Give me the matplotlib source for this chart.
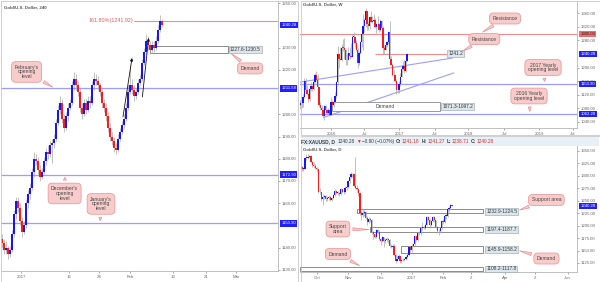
"""
Gold/U.S. Dollar multi-timeframe view: 4h, weekly and daily candles
with zones, opening levels and callouts.
"""
import numpy as np
import matplotlib
matplotlib.use("Agg")
import matplotlib.pyplot as plt
from matplotlib.patches import Rectangle

plt.rcParams["font.family"] = ["Liberation Sans", "DejaVu Sans"]

# ---- 4h candles (Dec 27 2016 .. Feb 9 2017) ----
h4_closes = [1142, 1139, 1140, 1137, 1139, 1146, 1155, 1161, 1158, 1152,
             1147, 1150, 1160, 1164, 1167, 1174, 1180, 1179, 1175, 1172,
             1174, 1179, 1183, 1182, 1186, 1187, 1189, 1196, 1202, 1205,
             1198, 1194, 1199, 1203, 1205, 1213, 1216, 1213, 1210, 1203,
             1200, 1205, 1202, 1206, 1205, 1213, 1216, 1215, 1213, 1210,
             1205, 1203, 1199, 1194, 1190, 1188, 1185, 1184, 1189, 1192,
             1195, 1198, 1203, 1210, 1213, 1211, 1208, 1210, 1214, 1216,
             1223, 1228, 1233, 1231, 1229, 1231, 1230, 1233, 1238, 1242,
             1240.28]
h4_opens = [1144.0] + h4_closes[:-1]
h4_highs = [1146, 1144, 1143, 1141, 1141, 1148, 1157, 1163, 1163, 1160,
            1154, 1152, 1162, 1166, 1169, 1176, 1183, 1182, 1181, 1177,
            1176, 1181, 1185, 1186, 1188, 1189, 1191, 1198, 1204, 1208,
            1207, 1200, 1201, 1205, 1207, 1215, 1219, 1218, 1215, 1212,
            1205, 1207, 1207, 1208, 1208, 1215, 1219, 1218, 1217, 1214,
            1212, 1207, 1205, 1201, 1196, 1192, 1190, 1187, 1191, 1194,
            1197, 1200, 1205, 1213, 1222, 1216, 1213, 1212, 1216, 1218,
            1225, 1230, 1236, 1235, 1233, 1233, 1233, 1235, 1240, 1244.6,
            1243]
h4_lows = [1140, 1137, 1137, 1135, 1136, 1138, 1145, 1153, 1156, 1150,
           1145, 1146, 1149, 1158, 1162, 1166, 1172, 1177, 1173, 1170,
           1171, 1173, 1177, 1180, 1181, 1178, 1185, 1188, 1195, 1200,
           1196, 1192, 1193, 1197, 1202, 1204, 1211, 1211, 1208, 1201,
           1198, 1199, 1200, 1201, 1203, 1204, 1211, 1213, 1211, 1208,
           1203, 1201, 1197, 1192, 1188, 1186, 1183, 1182, 1183, 1188,
           1191, 1194, 1197, 1202, 1209, 1209, 1206, 1207, 1209, 1213,
           1215, 1222, 1227, 1229, 1227, 1228, 1228, 1229, 1232, 1237,
           1239]
h4_ticks = [9.5, 33.5, 48.5, 64, 85.5, 102, 117]
h4_tick_labels = ["2017", "16", "24", "Feb", "13", "21", "Mar"]
h4_yticks = [1130, 1140, 1160, 1170, 1180, 1190, 1200, 1220, 1230, 1250]
h4_levels = [1211.58, 1172.90, 1150.90]
h4_fib = 1241.92
h4_demand = (1227.6, 1230.5)

# ---- weekly candles (Jul 27 2015 .. Feb 6 2017) ----
wk_closes = [1095, 1094, 1113, 1160, 1134, 1121, 1108, 1138, 1145, 1137,
             1156, 1177, 1163, 1142, 1088, 1081, 1076, 1056, 1086, 1075,
             1065, 1076, 1061, 1097, 1089, 1097, 1116, 1157, 1239, 1226,
             1222, 1259, 1258, 1253, 1221, 1222, 1243, 1235, 1232, 1290,
             1290, 1273, 1252, 1212, 1243, 1275, 1298, 1322, 1340, 1366,
             1327, 1322, 1350, 1335, 1336, 1340, 1321, 1327, 1328, 1310,
             1338, 1316, 1257, 1251, 1267, 1276, 1304, 1225, 1208, 1178,
             1177, 1160, 1134, 1133, 1152, 1173, 1197, 1204, 1190, 1220,
             1240.28]
wk_opens = [1090.0] + wk_closes[:-1]
wk_highs = [1105, 1099, 1123, 1169, 1170, 1147, 1125, 1141, 1157, 1147,
            1159, 1185, 1191, 1180, 1143, 1099, 1089, 1081, 1088, 1088,
            1078, 1081, 1081, 1112, 1105, 1111, 1127, 1160, 1263, 1240,
            1261, 1270, 1283, 1287, 1255, 1243, 1262, 1261, 1271, 1298,
            1304, 1292, 1280, 1258, 1248, 1277, 1315, 1358, 1345, 1375,
            1368, 1338, 1352, 1368, 1352, 1358, 1347, 1331, 1352, 1331,
            1343, 1341, 1323, 1266, 1274, 1279, 1308, 1337, 1235, 1213,
            1192, 1180, 1166, 1145, 1160, 1183, 1206, 1219, 1221, 1226,
            1244]
wk_lows = [1077, 1080, 1084, 1110, 1130, 1118, 1098, 1101, 1130, 1130,
           1134, 1155, 1160, 1138, 1084, 1076, 1071, 1052, 1046, 1067,
           1062, 1064, 1058, 1061, 1084, 1084, 1096, 1110, 1153, 1200,
           1221, 1220, 1249, 1226, 1208, 1206, 1221, 1225, 1230, 1230,
           1280, 1260, 1250, 1200, 1206, 1240, 1262, 1251, 1306, 1320,
           1310, 1310, 1314, 1333, 1330, 1333, 1317, 1303, 1323, 1306,
           1307, 1313, 1241, 1241, 1252, 1260, 1270, 1222, 1207, 1174,
           1161, 1157, 1122, 1124, 1125, 1146, 1173, 1194, 1185, 1188,
           1219]
wk_ticks = [23, 48, 74, 101, 126, 153, 179, 204.5]
wk_tick_labels = ["2016", "Jul", "2017", "Jul", "2018", "Jul", "2019", "Jul"]
wk_yticks = [1040, 1080, 1120, 1160, 1200, 1280, 1320, 1360]
wk_resistance = 1300.00
wk_minor_res = 1241.2
wk_levels = [1150.90, 1062.20]
wk_demand = (1071.3, 1097.2)
wk_trend_upper = ([0, 114], [1157, 1228])
wk_trend_lower = ([18.5, 115], [1054, 1184])

# ---- daily candles (Sep 19 2016 .. Feb 9 2017) ----
d_closes = [1314, 1314, 1336, 1336, 1338, 1339, 1327, 1322, 1320, 1316,
            1313, 1268, 1267, 1253, 1257, 1259, 1253, 1255, 1257, 1251,
            1255, 1262, 1269, 1266, 1266, 1263, 1273, 1267, 1268, 1276,
            1277, 1289, 1297, 1303, 1304, 1280, 1276, 1274, 1266, 1225,
            1221, 1226, 1227, 1216, 1208, 1213, 1212, 1187, 1183, 1178,
            1191, 1188, 1173, 1170, 1177, 1169, 1171, 1174, 1171, 1160,
            1158, 1160, 1142, 1129, 1133, 1139, 1129, 1131, 1131, 1133,
            1138, 1141, 1157, 1151, 1159, 1164, 1180, 1172, 1185, 1185,
            1196, 1197, 1196, 1202, 1217, 1212, 1201, 1209, 1218, 1211,
            1198, 1189, 1190, 1195, 1210, 1208, 1220, 1220, 1234, 1236,
            1241, 1240.28]
d_opens = [1318.0] + d_closes[:-1]
d_highs = [1320, 1318, 1338, 1343, 1344, 1342, 1341, 1330, 1327, 1323,
           1318, 1314, 1275, 1268, 1264, 1262, 1262, 1259, 1262, 1260,
           1258, 1264, 1273, 1271, 1270, 1267, 1275, 1274, 1271, 1280,
           1280, 1291, 1298, 1307, 1306, 1305, 1337, 1282, 1275, 1268,
           1230, 1233, 1232, 1229, 1220, 1218, 1216, 1214, 1190, 1186,
           1194, 1194, 1192, 1176, 1180, 1178, 1175, 1178, 1176, 1173,
           1163, 1163, 1164, 1144, 1141, 1143, 1140, 1134, 1135, 1136,
           1141, 1145, 1159, 1160, 1163, 1166, 1182, 1181, 1187, 1189,
           1199, 1207, 1201, 1206, 1219, 1220, 1213, 1212, 1220, 1219,
           1212, 1200, 1194, 1197, 1212, 1213, 1222, 1225, 1236, 1240,
           1244, 1243]
d_lows = [1310, 1309, 1313, 1332, 1334, 1335, 1325, 1318, 1315, 1314,
          1308, 1266, 1264, 1250, 1241, 1254, 1250, 1249, 1252, 1249,
          1250, 1254, 1260, 1263, 1261, 1260, 1262, 1265, 1264, 1266,
          1272, 1275, 1286, 1295, 1298, 1278, 1274, 1268, 1260, 1222,
          1211, 1218, 1220, 1213, 1202, 1205, 1208, 1183, 1174, 1176,
          1176, 1183, 1171, 1162, 1168, 1157, 1166, 1167, 1166, 1157,
          1155, 1155, 1140, 1124, 1128, 1131, 1125, 1125, 1128, 1128,
          1131, 1136, 1139, 1146, 1147, 1157, 1162, 1170, 1170, 1181,
          1182, 1191, 1193, 1194, 1201, 1209, 1195, 1200, 1207, 1208,
          1196, 1186, 1181, 1186, 1193, 1204, 1206, 1214, 1218, 1228,
          1232, 1238.7]
d_ticks = [10, 31, 53, 74, 95, 114, 137, 157, 179]
d_tick_labels = ["Oct", "Nov", "Dec", "2017", "Feb", "2", "Apr", "2", "Jun"]
d_yticks = [1125, 1150, 1175, 1200, 1225, 1250, 1275, 1300, 1325, 1350]
# zones: (low, high, start index)
d_zones = [(1224.5, 1232.9, 37), (1187.7, 1197.4, 46), (1145.9, 1158.2, 67), (1108.2, 1117.8, -1.4)]
d_zone_labels = ["1232.9-1224.5", "1197.4-1187.7", "1145.9-1158.2", "1108.2-1117.8"]

LAST = 1240.28

UP = "#1414ff"
DOWN = "#ff1a1a"
WICK = "#a8a8a8"
BLUE_LINE = "#9d9dff"
RED_LINE = "#f28c8c"
CALL_FC = "#f9cccc"
CALL_EC = "#e89090"
TAG_BLUE = "#1f1fff"
LABEL_FC = "#dde6ec"
TXT = "#3a3a3a"


def draw_candles(ax, opens, highs, lows, closes, width, min_h):
    o, h, l, c = (np.asarray(a, dtype=float) for a in (opens, highs, lows, closes))
    x = np.arange(len(c))
    up = c >= o
    ax.vlines(x, l, h, color=WICK, lw=0.5, zorder=2)
    bottom = np.minimum(o, c)
    height = np.maximum(np.abs(c - o), min_h)
    ax.bar(x[up], height[up], width, bottom=bottom[up], color=UP, lw=0, zorder=3)
    ax.bar(x[~up], height[~up], width, bottom=bottom[~up], color=DOWN, lw=0, zorder=3)


def style_axes(ax, xlim, ylim, yticks, xticks, xlabels):
    ax.set_xlim(*xlim)
    ax.set_ylim(*ylim)
    ax.yaxis.tick_right()
    ax.set_yticks(yticks)
    ax.set_yticklabels([f"{v:.2f}" for v in yticks])
    ax.set_xticks(xticks)
    ax.set_xticklabels(xlabels)
    for s in ("top", "left"):
        ax.spines[s].set_visible(False)
    for s in ("right", "bottom"):
        ax.spines[s].set_color("#b5b5b5")
        ax.spines[s].set_linewidth(0.6)
    ax.tick_params(axis="both", labelsize=3.1, colors="#666666", length=1.5, width=0.4, pad=1.2)


def price_tag(ax, y, text, fc=TAG_BLUE, tc="white"):
    ax.text(1.012, y, text, transform=ax.get_yaxis_transform(), ha="left", va="center",
            fontsize=3.1, color=tc, clip_on=False, zorder=9,
            bbox=dict(boxstyle="square,pad=0.25", fc=fc, ec="none"))


def range_label(ax, x, y, text):
    ax.text(x, y, text, ha="left", va="center", fontsize=3.4, color="#333333", zorder=7,
            bbox=dict(boxstyle="square,pad=0.2", fc=LABEL_FC, ec="#8fa3ad", lw=0.4))


def callout(ax, text, xy, xytext):
    ax.annotate(text, xy=xy, xytext=xytext, ha="center", va="center", fontsize=3.6,
                color="#444444", linespacing=0.95, zorder=8, annotation_clip=False,
                bbox=dict(boxstyle="round,pad=0.6,rounding_size=0.8", fc=CALL_FC, ec=CALL_EC, lw=0.5),
                arrowprops=dict(arrowstyle="wedge,tail_width=0.6,shrink_factor=0.5",
                                fc=CALL_FC, ec=CALL_EC, lw=0.5))


def title(ax, text):
    ax.text(0.012, 0.985, text, transform=ax.transAxes, ha="left", va="top",
            fontsize=3.2, fontweight="bold", color="#555555", zorder=9)


fig = plt.figure(figsize=(6, 2.82), dpi=100)
W, H = 600.0, 282.0

# outer panel frames
for x0, y0, x1, y1 in [(0.5, 0.5, 298, 281.5), (300.5, 0.5, 599.5, 134.5), (300.5, 136, 599.5, 281.5)]:
    fig.add_artist(Rectangle((x0 / W, 1 - y1 / H), (x1 - x0) / W, (y1 - y0) / H,
                             transform=fig.transFigure, fill=False, ec="#c8c8c8", lw=0.6))

# ---------------- left: 4h ----------------
ax1 = fig.add_axes([1 / W, 1 - 271 / H, 277 / W, 270 / H])
style_axes(ax1, (-0.5, 138), (1129.55, 1250.9), h4_yticks, h4_ticks, h4_tick_labels)
for lvl in h4_levels:
    ax1.axhline(lvl, color=BLUE_LINE, lw=0.9, zorder=1)
ax1.hlines(h4_fib, 66, 138, color=RED_LINE, lw=0.8, zorder=1)
ax1.text(65.5, h4_fib, f"161.80%({h4_fib:.2f})", ha="right", va="center", fontsize=3.9, color="#e25c5c")
ax1.add_patch(Rectangle((74, h4_demand[0]), 39, h4_demand[1] - h4_demand[0],
                        fc="white", ec="#7a7a7a", lw=0.6, zorder=1))
range_label(ax1, 114, sum(h4_demand) / 2, f"{h4_demand[0]}-{h4_demand[1]}")
draw_candles(ax1, h4_opens, h4_highs, h4_lows, h4_closes, 0.8, 0.4)
for base, tip in [((60.5, 1198.8), (65, 1225.3)), ((70.2, 1207.8), (73.3, 1234.3))]:
    ax1.annotate("", xy=tip, xytext=base, zorder=6,
                 arrowprops=dict(arrowstyle="-|>", color="#111111", lw=0.6, mutation_scale=4,
                                 shrinkA=0, shrinkB=0))
callout(ax1, "February's\nopening\nlevel", (26.5, h4_levels[0]), (12.3, 1219))
callout(ax1, "December's\nopening\nlevel", (31.5, h4_levels[1]), (31.3, 1164.4))
callout(ax1, "January's\nopening\nlevel", (49, h4_levels[2]), (49.5, 1159.7))
callout(ax1, "Demand", (113.5, 1228), (124, 1220.6))
price_tag(ax1, LAST, f"{LAST:.2f}")
for lvl in h4_levels:
    price_tag(ax1, lvl, f"{lvl:.2f}")
title(ax1, "Gold/U.S. Dollar, 240")

# ---------------- top right: weekly ----------------
ax2 = fig.add_axes([300 / W, 1 - 128 / H, 277 / W, 127 / H])
style_axes(ax2, (-0.25, 207.5), (1021.6, 1396.3), wk_yticks, wk_ticks, wk_tick_labels)
ax2.axhline(wk_resistance, color=RED_LINE, lw=0.8, zorder=1)
for lvl in wk_levels:
    ax2.axhline(lvl, color=BLUE_LINE, lw=0.9, zorder=1)
ax2.hlines(wk_minor_res, 56, 110, color=RED_LINE, lw=0.8, zorder=1)
ax2.plot(*wk_trend_upper, color=BLUE_LINE, lw=0.8, zorder=1)
ax2.plot(*wk_trend_lower, color=BLUE_LINE, lw=0.8, zorder=1)
ax2.add_patch(Rectangle((23.8, wk_demand[0]), 81, wk_demand[1] - wk_demand[0],
                        fc="white", ec="#8a8a8a", lw=0.6, zorder=1))
ax2.text(64, sum(wk_demand) / 2, "Demand", ha="center", va="center", fontsize=3.6, color="#444444", zorder=4)
draw_candles(ax2, wk_opens, wk_highs, wk_lows, wk_closes, 0.9, 2.0)
range_label(ax2, 111, wk_minor_res, f"{wk_minor_res}")
range_label(ax2, 106.5, sum(wk_demand) / 2, f"{wk_demand[0]}-{wk_demand[1]}")
callout(ax2, "Resistance", (134.8, wk_resistance), (153.5, 1344.7))
callout(ax2, "Resistance", (120, 1245), (138, 1284))
callout(ax2, "2017 Yearly\nopening level", (183.5, wk_levels[0]), (182, 1200))
callout(ax2, "2016 Yearly\nopening level", (172.3, wk_levels[1]), (171.5, 1116))
price_tag(ax2, wk_resistance, f"{wk_resistance:.2f}", fc="#f46a6a", tc="#222222")
price_tag(ax2, LAST, f"{LAST:.2f}")
for lvl in wk_levels:
    price_tag(ax2, lvl, f"{lvl:.2f}")
title(ax2, "Gold/U.S. Dollar, W")

# ---------------- bottom right: daily ----------------
ax3 = fig.add_axes([300 / W, 1 - 272 / H, 277 / W, 126 / H])
style_axes(ax3, (-1.35, 185.2), (1106.9, 1360), d_yticks, d_ticks, d_tick_labels)
for (lo, hi, start), lab in zip(d_zones, d_zone_labels):
    ax3.add_patch(Rectangle((start, lo), 122 - start, hi - lo, fc="white", ec="#7a7a7a",
                            lw=0.6, zorder=1, clip_on=True))
    range_label(ax3, 124, (lo + hi) / 2, lab)
draw_candles(ax3, d_opens, d_highs, d_lows, d_closes, 0.8, 1.0)
callout(ax3, "Support area", (144.8, 1229.5), (164.6, 1251.6))
callout(ax3, "Support\narea", (47, 1192), (24.2, 1193.3))
callout(ax3, "Demand", (144.8, 1151), (164.6, 1134))
callout(ax3, "Demand", (40.4, 1117), (24.2, 1143))
price_tag(ax3, LAST, f"{LAST:.2f}")
title(ax3, "Gold/U.S. Dollar, D")

# info bar above the daily panel
fig.add_artist(Rectangle((301 / W, 1 - 146 / H), 298 / W, 9.5 / H, transform=fig.transFigure,
                         fc="#e8f0f7", ec="none"))
RED_T = "#d42a2a"
parts = [("FX:XAUUSD, D", TXT, "bold", 2.0), (f"{LAST:.2f}", TXT, "normal", 1.5),
         ("\u25bc", RED_T, "normal", 1.2), ("\u22120.90 (\u22120.07%)", TXT, "normal", 2.0),
         ("O:", TXT, "bold", 0.4), ("1241.18", RED_T, "normal", 2.0),
         ("H:", TXT, "bold", 0.4), ("1241.27", RED_T, "normal", 2.0),
         ("L:", TXT, "bold", 0.4), ("1238.71", RED_T, "normal", 2.0),
         ("C:", TXT, "bold", 0.4), (f"{LAST:.2f}", RED_T, "normal", 2.0)]
renderer = fig.canvas.get_renderer()
xpos = 301.5
for txt, col, wt, gap in parts:
    t = fig.text(xpos / W, 1 - 141.3 / H, txt, color=col, fontsize=3.4, fontweight=wt,
                 ha="left", va="center")
    xpos += t.get_window_extent(renderer=renderer).width + gap

fig.savefig("out.png", dpi=100)
plt.close(fig)
